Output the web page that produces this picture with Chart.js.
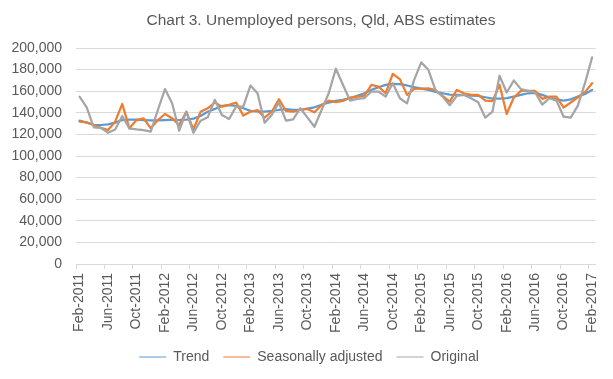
<!DOCTYPE html>
<html>
<head>
<meta charset="utf-8">
<script src="https://cdn.jsdelivr.net/npm/chart.js@4"></script>
<style>
  html, body { margin: 0; padding: 0; background: #ffffff; }
  #wrap { width: 613px; height: 379px; position: relative; }
</style>
</head>
<body>
<div id="wrap"><canvas id="c" width="613" height="379"></canvas></div>
<script>
// ---- Data (thousands of persons) ----
const monthNames = ['Jan','Feb','Mar','Apr','May','Jun','Jul','Aug','Sep','Oct','Nov','Dec'];
const startYear = 2011, startMonth = 1, monthCount = 73; // Feb-2011 .. Feb-2017
const categories = [];
for (let k = 0; k < monthCount; k++) {
  const m = (startMonth + k) % 12, y = startYear + Math.floor((startMonth + k) / 12);
  categories.push(monthNames[m] + '-' + y);
}

const trend = [
  132.7,130.9,128.7,128.7,129.3,130.9,133.3,133.6,133.6,133.3,133.0,133.0,
  133.3,133.6,133.3,133.6,134.6,137.0,141.0,143.6,146.4,147.0,146.4,144.2,
  141.8,141.2,141.0,141.7,142.6,143.3,142.6,142.6,143.9,145.1,147.3,149.5,
  151.0,152.0,153.5,155.7,158.1,161.2,163.7,165.9,166.8,166.5,165.3,163.7,
  162.4,161.2,159.4,158.1,156.9,156.6,156.6,156.0,155.7,154.4,153.2,153.2,
  153.5,155.0,156.6,158.1,158.4,156.6,154.1,152.5,151.3,152.5,155.0,157.5,
  161.2
];
const seasonallyAdjusted = [
  131.8,131.2,128.7,126.2,124.0,131.8,148.2,125.6,133.3,134.9,125.6,133.3,
  138.9,134.9,128.7,141.0,124.6,141.0,144.2,149.5,145.7,147.3,149.5,137.4,
  141.0,142.6,135.5,141.0,152.6,141.7,141.0,142.6,143.6,140.5,147.3,151.3,
  149.8,151.0,154.1,155.0,155.7,165.9,164.3,158.1,176.1,171.2,156.6,162.2,
  162.3,162.6,161.0,155.7,150.4,161.2,158.1,156.6,156.6,151.3,150.7,165.9,
  138.9,154.1,160.3,160.3,160.3,152.9,155.0,155.0,144.8,149.5,154.4,159.1,
  167.4
];
const original = [
  155.0,145.0,126.5,126.0,121.5,124.6,137.0,125.6,124.6,124.0,122.5,142.6,
  162.0,148.8,123.4,141.0,121.5,132.7,135.8,152.0,138.0,134.3,145.7,145.7,
  165.2,158.1,130.9,138.0,149.5,132.7,134.0,144.2,135.8,127.1,142.6,158.1,
  180.8,165.9,151.3,152.9,153.5,159.7,159.7,155.0,167.4,153.5,148.8,170.5,
  186.7,179.8,161.0,155.0,147.0,155.7,156.6,153.5,149.8,135.5,141.0,174.3,
  158.8,169.9,161.9,160.3,158.8,147.6,153.5,151.3,136.4,135.5,146.7,167.4,
  191.3
];
const yTicks = [0,20000,40000,60000,80000,100000,120000,140000,160000,180000,200000];
const titleText = 'Chart 3. Unemployed persons, Qld, ABS estimates';
const seriesNames = ['Trend','Seasonally adjusted','Original'];

// ---- Chart ----
const FONT = '"Liberation Sans", Arial, sans-serif';
const TXT = '#595959';
const GRID = '#d9d9d9';
const toPersons = a => a.map(v => v * 1000);

const titlePlugin = {
  id: 'excelTitle',
  afterLayout(chart) {
    // nudge legend to the right to match the reference centring
    if (chart.legend) { chart.legend.left += 10; chart.legend.right += 10; }
  },
  afterDraw(chart) {
    const ctx = chart.ctx;
    ctx.save();
    ctx.font = '15.5px ' + FONT;
    ctx.fillStyle = TXT;
    ctx.textAlign = 'center';
    ctx.textBaseline = 'middle';
    ctx.fillText(titleText, 321, 21);
    ctx.restore();
  }
};

new Chart(document.getElementById('c'), {
  type: 'line',
  data: {
    labels: categories,
    datasets: [
      { label: seriesNames[0], data: toPersons(trend), borderColor: '#5b9bd5', backgroundColor: '#5b9bd5', order: 3 },
      { label: seriesNames[1], data: toPersons(seasonallyAdjusted), borderColor: '#ed7d31', backgroundColor: '#ed7d31', order: 2 },
      { label: seriesNames[2], data: toPersons(original), borderColor: '#a5a5a5', backgroundColor: '#a5a5a5', order: 1 }
    ]
  },
  options: {
    responsive: false,
    animation: false,
    devicePixelRatio: 1,
    layout: { padding: { left: 0, right: 15, top: 48, bottom: 5 } },
    elements: {
      line: { borderWidth: 2.25, tension: 0, borderJoinStyle: 'round', borderCapStyle: 'round', fill: false },
      point: { radius: 0, hoverRadius: 0 }
    },
    plugins: {
      title: { display: false },
      tooltip: { enabled: false },
      legend: {
        display: true,
        position: 'bottom',
        labels: {
          usePointStyle: true,
          pointStyle: 'line',
          pointStyleWidth: 27,
          padding: 14,
          color: TXT,
          font: { family: FONT, size: 14 },
          sort: (a, b) => a.datasetIndex - b.datasetIndex
        }
      }
    },
    scales: {
      x: {
        type: 'category',
        offset: true,
        afterFit: s => { s.height = 72; },
        grid: {
          offset: true,
          drawOnChartArea: false,
          drawTicks: true,
          tickLength: 5,
          color: ctx => (ctx.index % 4 === 0 ? GRID : 'rgba(0,0,0,0)')
        },
        border: { display: true, color: GRID },
        ticks: {
          autoSkip: false,
          minRotation: 90,
          maxRotation: 90,
          padding: 4,
          color: TXT,
          font: { family: FONT, size: 14 },
          callback: function (val, idx) { return idx % 4 === 0 ? categories[idx] : ''; }
        }
      },
      y: {
        min: 0,
        max: 200000,
        afterFit: s => { s.width = 76; },
        afterBuildTicks: s => { s.ticks = yTicks.map(v => ({ value: v })); },
        grid: { color: GRID, drawTicks: false, lineWidth: 1 },
        border: { display: false },
        ticks: {
          padding: 14,
          color: TXT,
          font: { family: FONT, size: 14 },
          callback: v => v.toLocaleString('en-US')
        }
      }
    }
  },
  plugins: [titlePlugin]
});
</script>
</body>
</html>
